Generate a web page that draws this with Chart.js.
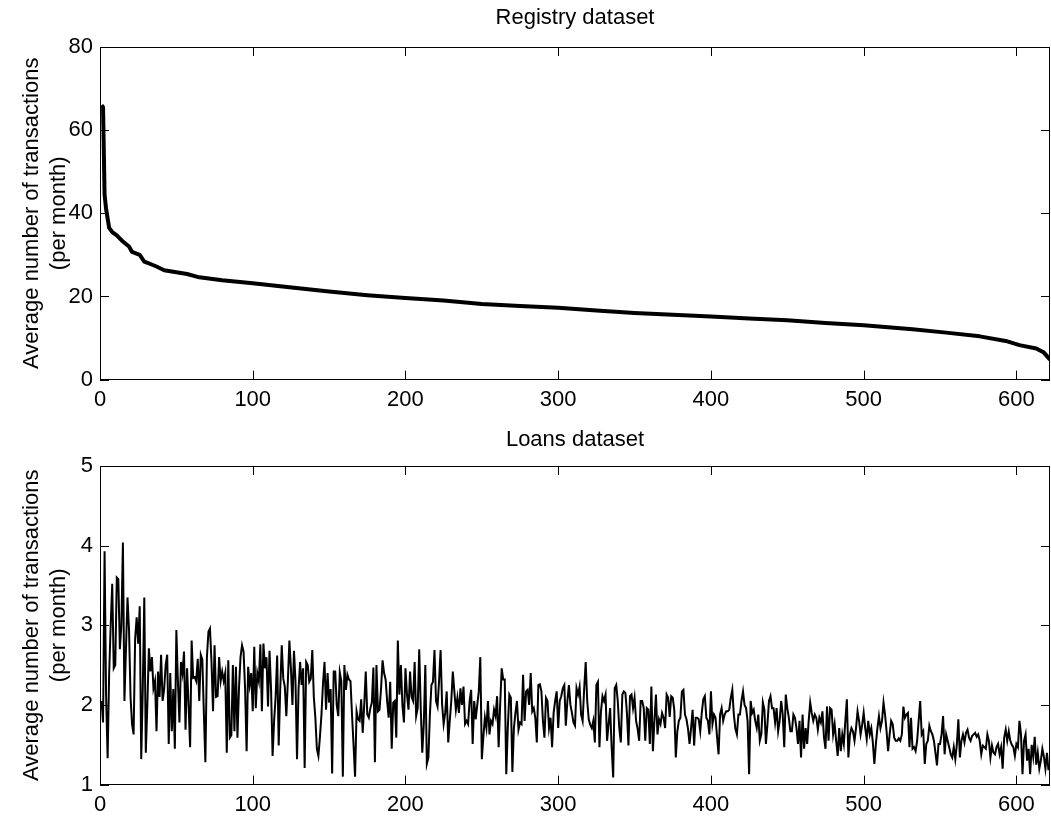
<!DOCTYPE html>
<html>
<head>
<meta charset="utf-8">
<script src="https://cdn.jsdelivr.net/npm/chart.js@4.4.1/dist/chart.umd.min.js"></script>
<style>
  html, body { margin:0; padding:0; background:#fff; }
  #wrap { position:relative; width:1051px; height:825px; }
  .caja { position:absolute; left:0; width:1051px; }
</style>
</head>
<body>
<div id="wrap">
  <div class="caja" style="top:0;height:420px"><canvas id="chartRegistry"></canvas></div>
  <div class="caja" style="top:420px;height:405px"><canvas id="chartLoans"></canvas></div>
</div>
<script>
// Registry dataset: curva ordenada (muestreada a mano del grafico)
const registryX = [1,2,3,4,6,8,11,15,19,21,26,29,33,37,42,50,57,65,80,100,124,150,175,200,225,250,275,300,325,350,375,400,425,450,475,500,510,532,554,576,593,602,613,618,622];
const registryY = [66,65.5,44.5,41,36.5,35.5,34.7,33.2,32,30.7,30,28.4,27.8,27.2,26.3,25.8,25.4,24.6,23.9,23.2,22.2,21.2,20.3,19.6,19,18.2,17.7,17.3,16.6,16,15.6,15.2,14.7,14.3,13.6,13.1,12.8,12.1,11.3,10.4,9.3,8.3,7.5,6.5,4.8];

// Loans dataset: un valor por indice (1..621)
const loansY = [
  2.05,1.78,3.93,2.1,1.33,2.4,3.0,3.52,2.46,2.5,
  3.6,3.58,2.7,3.0,4.04,2.05,2.7,3.35,2.95,2.1,
  1.76,1.63,2.83,3.1,2.77,3.24,1.32,2.2,3.35,1.4,
  2.0,2.71,2.42,2.6,2.21,2.3,1.67,2.42,2.1,2.63,
  2.05,2.2,2.5,2.63,1.51,2.4,1.67,2.2,1.45,2.94,
  2.3,1.78,2.54,2.4,2.67,1.69,2.46,2.0,1.47,2.81,
  2.34,2.35,2.3,2.58,2.05,2.63,2.57,1.9,1.28,2.6,
  2.92,2.96,2.54,1.92,2.75,2.1,2.11,2.6,2.3,2.42,
  2.3,2.4,1.4,2.56,1.59,1.62,2.5,1.67,2.48,1.59,
  2.21,2.6,2.75,2.67,2.2,1.42,2.48,2.25,2.4,1.92,
  2.73,1.96,2.4,2.3,2.76,1.92,2.77,2.46,2.6,1.98,
  2.68,2.2,1.36,1.8,2.11,2.62,1.49,2.2,2.75,2.33,
  2.23,1.86,2.3,2.81,2.46,2.0,2.68,2.3,1.32,2.2,
  2.54,2.25,2.46,1.21,2.54,2.5,2.29,2.33,2.69,2.1,
  1.84,1.45,1.36,1.6,1.88,2.27,2.54,1.94,2.4,2.03,
  2.2,1.14,2.42,2.42,2.0,1.86,2.41,2.3,1.1,2.5,
  2.19,2.38,2.32,2.3,1.88,1.5,1.1,1.92,1.82,1.8,
  2.07,1.65,2.0,2.42,1.88,1.84,1.96,2.03,2.47,1.28,
  2.5,1.92,1.94,2.2,2.56,2.4,2.32,2.05,1.84,2.29,
  1.45,2.03,2.05,1.59,2.81,2.13,2.5,2.0,1.78,2.46,
  2.13,1.94,2.42,2.1,2.05,2.54,1.86,1.96,2.7,1.96,
  1.4,1.76,2.5,1.26,1.34,1.88,2.25,2.29,2.69,2.05,
  1.98,2.3,2.69,2.0,1.76,1.9,2.17,1.53,1.8,2.05,
  2.42,2.17,1.94,2.09,1.9,2.21,2.0,2.23,1.76,1.8,
  1.76,2.05,2.19,1.51,2.05,1.82,2.0,2.17,2.6,1.32,
  1.6,1.84,1.71,2.05,1.63,1.8,1.76,1.94,1.86,2.11,
  1.47,2.0,2.46,2.32,2.32,1.13,1.71,2.13,2.09,1.16,
  1.71,1.9,2.05,1.69,1.78,1.76,2.38,1.8,2.17,2.19,
  2.0,2.4,1.92,1.96,1.84,1.53,2.25,2.26,2.17,1.8,
  1.59,2.09,2.05,1.71,1.84,1.47,1.9,2.05,2.17,1.71,
  2.05,2.11,2.21,2.25,1.74,2.05,2.25,2.0,1.9,1.78,
  1.74,2.21,2.13,2.23,1.88,1.8,2.2,2.54,2.05,1.82,
  1.75,1.71,1.8,1.53,2.25,2.29,1.47,1.92,2.11,2.05,
  2.13,1.55,1.76,1.96,1.47,1.09,2.21,2.25,2.05,1.71,
  1.53,2.13,2.17,2.15,1.9,1.49,2.11,2.13,1.96,2.09,
  1.8,1.7,1.55,2.05,2.05,1.96,1.55,1.96,1.94,1.51,
  2.23,1.42,1.8,2.13,1.63,1.82,1.76,1.9,1.84,1.71,
  2.13,2.09,1.85,2.11,2.09,1.94,1.34,1.67,1.8,1.84,
  2.17,2.19,1.88,1.82,1.7,1.51,1.71,1.94,1.49,1.84,
  1.84,1.82,1.67,1.9,2.07,2.11,1.84,1.8,1.63,2.17,
  1.76,1.88,1.84,1.6,1.38,1.88,1.96,1.8,1.88,1.92,
  1.92,1.94,2.09,2.19,1.88,1.7,1.63,1.88,1.88,2.05,
  2.17,2.0,1.96,1.8,1.13,2.05,1.9,1.94,1.8,1.71,
  1.88,1.55,1.63,2.03,1.94,1.51,1.76,2.05,2.11,1.96,
  1.96,1.78,1.96,1.67,1.8,2.05,1.88,1.47,2.13,1.96,
  1.84,1.67,1.67,1.88,1.84,1.71,1.51,1.8,1.34,1.88,
  1.45,1.71,1.51,1.8,2.03,1.9,1.8,1.88,1.84,1.69,
  1.84,1.78,1.92,1.6,1.45,1.98,1.55,1.96,1.94,1.63,
  1.76,1.55,1.36,1.71,1.42,1.63,1.51,1.8,2.07,1.34,
  1.63,1.71,1.67,1.55,1.71,1.92,1.8,1.63,1.75,1.9,
  1.71,1.57,1.8,1.63,1.71,1.53,1.26,1.51,1.71,1.86,
  1.71,1.8,2.03,1.88,1.67,1.42,1.63,1.8,1.76,1.59,
  1.55,1.55,1.58,1.55,1.63,1.98,1.84,1.88,1.9,1.47,
  1.84,1.45,1.47,1.42,1.55,1.8,2.05,1.63,1.67,1.26,
  1.51,1.55,1.74,1.67,1.63,1.55,1.4,1.24,1.51,1.51,
  1.63,1.86,1.38,1.63,1.55,1.47,1.38,1.34,1.47,1.32,
  1.5,1.82,1.34,1.55,1.63,1.53,1.65,1.69,1.59,1.55,
  1.61,1.63,1.65,1.6,1.63,1.55,1.38,1.49,1.47,1.45,
  1.63,1.55,1.34,1.49,1.4,1.38,1.47,1.51,1.38,1.47,
  1.2,1.59,1.69,1.55,1.67,1.55,1.5,1.47,1.36,1.51,
  1.47,1.8,1.63,1.13,1.55,1.63,1.3,1.45,1.13,1.5,
  1.35,1.6,1.25,1.4,1.2,1.3,1.45,1.35,1.2,1.4,1.18
];

const xMax = 622;
const xTicks = [0,100,200,300,400,500,600];
const registryTicks = [0,20,40,60,80];
const loansTicks = [1,2,3,4,5];
const yLabel = ["Average number of transactions", "(per month)"];

const fuente = "'Liberation Sans', Arial, Helvetica, sans-serif";
const negro = "#000000";

// marco estilo MATLAB: caja completa con marcas hacia dentro en los 4 lados
const marcoMatlab = {
  id: "marcoMatlab",
  afterDatasetsDraw(chart){
    const { ctx, chartArea: a, scales: { x, y } } = chart;
    const largo = 9;
    ctx.save();
    ctx.strokeStyle = negro;
    ctx.lineWidth = 1;
    ctx.strokeRect(Math.round(a.left)+0.5, Math.round(a.top)+0.5,
                   Math.round(a.right-a.left)-1, Math.round(a.bottom-a.top)-1);
    ctx.beginPath();
    x.ticks.forEach(t=>{
      const px = Math.round(x.getPixelForValue(t.value))+0.5;
      ctx.moveTo(px, a.bottom); ctx.lineTo(px, a.bottom-largo);
      ctx.moveTo(px, a.top); ctx.lineTo(px, a.top+largo);
    });
    y.ticks.forEach(t=>{
      const py = Math.round(y.getPixelForValue(t.value))+0.5;
      ctx.moveTo(a.left, py); ctx.lineTo(a.left+largo, py);
      ctx.moveTo(a.right, py); ctx.lineTo(a.right-largo, py);
    });
    ctx.stroke();
    ctx.restore();
  }
};

function opciones(titulo, yMin, yMax, yTicks, tituloPad){
  return {
    responsive: true,
    maintainAspectRatio: false,
    animation: false,
    layout: { padding: { left:0, right:1, top:0, bottom:0 } },
    plugins: {
      legend: { display:false },
      tooltip: { enabled:false },
      title: {
        display: true, text: titulo, color: negro, fullSize: false,
        font: { family: fuente, size: 22, weight: "normal", lineHeight: 1.2 },
        padding: tituloPad
      }
    },
    scales: {
      x: {
        type: "linear", min: 0, max: xMax,
        grid: { display:false, drawTicks:false },
        border: { display:false },
        afterBuildTicks: s => { s.ticks = xTicks.map(v=>({ value:v })); },
        ticks: { color: negro, padding: 7, maxRotation: 0, font: { family: fuente, size: 22 } }
      },
      y: {
        min: yMin, max: yMax,
        grid: { display:false, drawTicks:false },
        border: { display:false },
        afterBuildTicks: s => { s.ticks = yTicks.map(v=>({ value:v })); },
        afterFit: s => { s.width = 100; },
        ticks: { color: negro, padding: 7, font: { family: fuente, size: 22 } },
        title: {
          display: true, text: yLabel, color: negro,
          font: { family: fuente, size: 22, lineHeight: 1.2 },
          padding: { top: 19, bottom: 0 }
        }
      }
    }
  };
}

new Chart(document.getElementById("chartRegistry").getContext("2d"), {
  type: "line",
  data: {
    datasets: [{
      data: registryX.map((v,i)=>({ x:v, y:registryY[i] })),
      borderColor: negro, borderWidth: 4, pointRadius: 0, tension: 0,
      borderJoinStyle: "round", borderCapStyle: "butt"
    }]
  },
  options: opciones("Registry dataset", 0, 80, registryTicks, { top: 5, bottom: 15.6 }),
  plugins: [marcoMatlab]
});

new Chart(document.getElementById("chartLoans").getContext("2d"), {
  type: "line",
  data: {
    datasets: [{
      data: loansY.map((v,i)=>({ x:i+1, y:v })),
      borderColor: negro, borderWidth: 2, pointRadius: 0, tension: 0,
      borderJoinStyle: "miter"
    }]
  },
  options: opciones("Loans dataset", 1, 5, loansTicks, { top: 7, bottom: 12.6 }),
  plugins: [marcoMatlab]
});
</script>
</body>
</html>
